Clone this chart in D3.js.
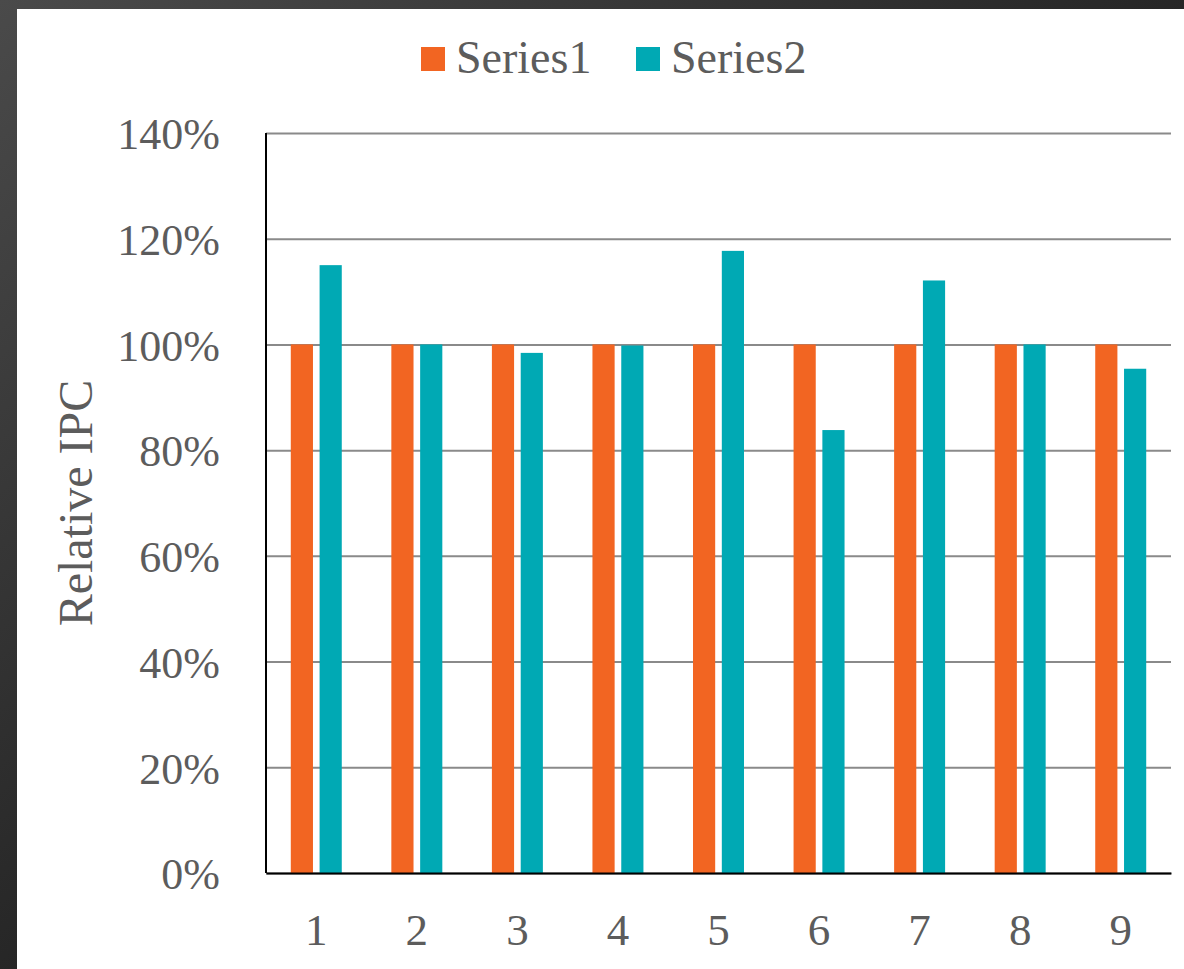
<!DOCTYPE html>
<html>
<head>
<meta charset="utf-8">
<script src="https://cdn.jsdelivr.net/npm/d3@7"></script>
<style>
  html, body { margin: 0; padding: 0; background: #1a1a1a; }
  svg { display: block; }
  .lbl { font-family: "Liberation Serif", "Times New Roman", Tinos, "DejaVu Serif", serif; }
</style>
</head>
<body>
<svg id="chart" width="1184" height="969"></svg>
<script>
// Data
const categories = ["1", "2", "3", "4", "5", "6", "7", "8", "9"];
const seriesNames = ["Series1", "Series2"];
const series1 = [1.00, 1.00, 1.00, 1.00, 1.00, 1.00, 1.00, 1.00, 1.00];
const series2 = [1.15, 1.00, 0.984, 0.998, 1.177, 0.838, 1.121, 1.00, 0.954];
const yTicks = [0, 0.2, 0.4, 0.6, 0.8, 1.0, 1.2, 1.4];
const colors = ["#F26522", "#00A9B4"];

const svg = d3.select("#chart");
const W = 1184, H = 969;

// Dark surround and white panel
const defs = svg.append("defs");
const grad = defs.append("linearGradient").attr("id", "surround")
  .attr("x1", 0).attr("y1", 0).attr("x2", 1).attr("y2", 1);
grad.append("stop").attr("offset", "0%").attr("stop-color", "#4a4a4a");
grad.append("stop").attr("offset", "45%").attr("stop-color", "#2a2a2a");
grad.append("stop").attr("offset", "100%").attr("stop-color", "#050505");
svg.append("rect").attr("width", W).attr("height", H).attr("fill", "url(#surround)");
svg.append("rect").attr("x", 17).attr("y", 9).attr("width", W - 17).attr("height", H - 9).attr("fill", "#ffffff");

const plotLeft = 266, plotRight = 1171, plotTop = 133, plotBottom = 873;
const textColor = "#5c5c5c";

const x0 = d3.scaleBand().domain(categories).range([plotLeft, plotRight])
  .paddingInner(0.493).paddingOuter(0.2465);
const x1 = d3.scaleBand().domain(seriesNames).range([0, x0.bandwidth()])
  .paddingInner(0.23).paddingOuter(0);
const y = d3.scaleLinear().domain([0, 1.4]).range([plotBottom, plotTop]);

// Gridlines and y tick labels
const yAxis = d3.axisLeft(y).tickValues(yTicks)
  .tickSize(-(plotRight - plotLeft)).tickPadding(46).tickFormat(d3.format(".0%"));
const gy = svg.append("g").attr("transform", `translate(${plotLeft},0)`).call(yAxis);
gy.attr("font-family", null);
gy.select(".domain").remove();
gy.selectAll(".tick line").attr("stroke", "#8a8a8a").attr("stroke-width", 2);
gy.selectAll(".tick text")
  .attr("class", "lbl")
  .attr("fill", textColor).attr("font-size", 44)
  .attr("dy", "0.36em");

// Bars
const data = categories.map((c, i) => ({ cat: c, values: [series1[i], series2[i]] }));
const groups = svg.append("g").selectAll("g").data(data).join("g")
  .attr("transform", d => `translate(${x0(d.cat)},0)`);
groups.selectAll("rect")
  .data(d => d.values.map((v, j) => ({ name: seriesNames[j], v, j })))
  .join("rect")
  .attr("x", d => x1(d.name))
  .attr("width", x1.bandwidth())
  .attr("y", d => y(d.v))
  .attr("height", d => y(0) - y(d.v))
  .attr("fill", d => colors[d.j]);

// Axis lines
svg.append("line").attr("x1", plotLeft).attr("x2", plotLeft).attr("y1", plotTop).attr("y2", plotBottom)
  .attr("stroke", "#000").attr("stroke-width", 2);
const xAxis = d3.axisBottom(x0).tickSize(0).tickPadding(40);
const gx = svg.append("g").attr("transform", `translate(0,${plotBottom})`).call(xAxis);
gx.attr("font-family", null);
gx.select(".domain").attr("stroke", "#000").attr("stroke-width", 2);
gx.selectAll(".tick text")
  .attr("class", "lbl")
  .attr("fill", textColor).attr("font-size", 45)
  .attr("dy", "0.71em");

// Y axis title
svg.append("text")
  .attr("class", "lbl")
  .attr("transform", "translate(92,503) rotate(-90)")
  .attr("text-anchor", "middle")
  .attr("fill", textColor).attr("font-size", 48)
  .text("Relative IPC");

// Legend
const legendItems = [
  { name: seriesNames[0], color: colors[0], x: 421 },
  { name: seriesNames[1], color: colors[1], x: 636 }
];
const lg = svg.append("g").selectAll("g").data(legendItems).join("g")
  .attr("transform", d => `translate(${d.x},0)`);
lg.append("rect").attr("x", 0).attr("y", 47).attr("width", 24).attr("height", 24)
  .attr("fill", d => d.color);
lg.append("text").attr("class", "lbl").attr("x", 35).attr("y", 73)
  .attr("fill", textColor).attr("font-size", 46)
  .text(d => d.name);
</script>
</body>
</html>
